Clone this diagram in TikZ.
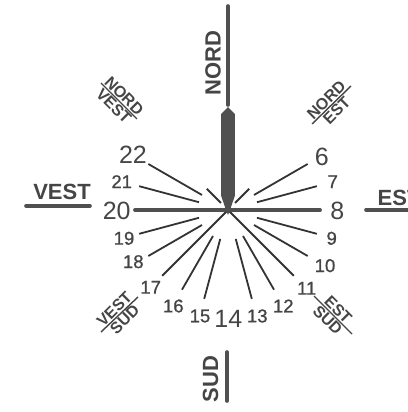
\documentclass[tikz,border=0pt]{standalone}
\usepackage{fontspec}
\setmainfont{Liberation Sans}
\newfontfamily\semifont[FakeBold=0.9]{Liberation Sans}
\usetikzlibrary{calc}
\definecolor{ink}{HTML}{454545}
\definecolor{linegray}{HTML}{505050}
\tikzset{
  compass/.style={font=\fontsize{22}{22}\selectfont\bfseries, text=ink, inner sep=0pt},
  diag/.style={font=\fontsize{16}{16}\selectfont\bfseries, text=ink, inner sep=1.5pt},
  bignum/.style={font=\fontsize{25}{25}\selectfont, text=ink, inner sep=0pt},
  smallnum/.style={font=\fontsize{18.5}{18.5}\semifont, text=ink, inner sep=0pt},
  bar/.style={line width=3.6pt, linegray, line cap=round},
  hourline/.style={line width=1.8pt, black!80, line cap=butt},
  diagline/.style={line width=1.4pt, ink},
}
\begin{document}
\begin{tikzpicture}[x=1pt,y=1pt]
\useasboundingbox (0,0) rectangle (407,412);
\coordinate (C) at (228,202);

% hour lines
\foreach \a in {30,15,-15,-30,-60,-75,-105,-120,-150,-165,165,150}
  \draw[hourline] ($(C)+(\a:30)$) -- ($(C)+(\a:92)$);
\foreach \a in {-45,-135}
  \draw[hourline] (C) -- ($(C)+(\a:93)$);
\foreach \a in {45,135}
  \draw[hourline] ($(C)+(\a:10)$) -- ($(C)+(\a:30)$);

% main horizontal line 20 - 8
\coordinate (W8) at (135,202);
\coordinate (E8) at (320,202);
\draw[line width=3.8pt, linegray, line cap=round] (W8) -- (E8);

% gnomon
\fill[linegray] (228,305) -- (234.8,298) -- (234.8,216) -- (230,202) -- (228,197) -- (226,202) -- (221.2,216) -- (221.2,298) -- cycle;

% north
\coordinate (N1) at (228,406);
\coordinate (N2) at (228,307);
\draw[bar] (N1) -- (N2);
\node[compass, rotate=90] (nord) at (213,349) {NORD};
% south
\coordinate (S1) at (227,60);
\coordinate (S2) at (227,11);
\draw[bar] (S1) -- (S2);
\node[compass, rotate=90] (sud) at (210.5,33) {SUD};
% west
\coordinate (Wa) at (26,206);
\coordinate (Wb) at (90,206);
\draw[bar] (Wa) -- (Wb);
\node[compass] (vest) at (62,220.5) {VEST};
% east
\coordinate (Ea) at (366,202);
\coordinate (Eb) at (420,202);
\draw[bar] (Ea) -- (Eb);
\node[compass, anchor=south west] (est) at (377.5,206.5) {EST};

% diagonal labels
\coordinate (nv1) at (101,329); \coordinate (nv2) at (137,293);
\draw[diagline] (nv1) -- (nv2);
\node[diag, rotate=-45, anchor=south] (nvN) at ($(nv1)!0.5!(nv2)$) {NORD};
\node[diag, rotate=-45, anchor=north] (nvV) at ($(nv1)!0.5!(nv2)$) {VEST};

\coordinate (ne1) at (312,288); \coordinate (ne2) at (351,326);
\draw[diagline] (ne1) -- (ne2);
\node[diag, rotate=45, anchor=south] (neN) at ($(ne1)!0.5!(ne2)$) {NORD};
\node[diag, rotate=45, anchor=north] (neE) at ($(ne1)!0.5!(ne2)$) {EST};

\coordinate (vs1) at (101,80); \coordinate (vs2) at (138,115);
\draw[diagline] (vs1) -- (vs2);
\node[diag, rotate=45, anchor=south] (vsV) at ($(vs1)!0.5!(vs2)$) {VEST};
\node[diag, rotate=45, anchor=north] (vsS) at ($(vs1)!0.5!(vs2)$) {SUD};

\coordinate (es1) at (314,116); \coordinate (es2) at (352,78);
\draw[diagline] (es1) -- (es2);
\node[diag, rotate=-45, anchor=south] (esE) at ($(es1)!0.5!(es2)$) {EST};
\node[diag, rotate=-45, anchor=north] (esS) at ($(es1)!0.5!(es2)$) {SUD};

% hour numbers
\node[bignum] (h22) at (133,257) {22};
\node[smallnum] (h21) at (121.7,230.3) {21};
\node[bignum] (h20) at (116.7,201.3) {20};
\node[smallnum] (h19) at (124,173.7) {19};
\node[smallnum] (h18) at (133.3,150.3) {18};
\node[smallnum] (h17) at (150.7,124.7) {17};
\node[smallnum] (h16) at (173.3,106) {16};
\node[smallnum] (h15) at (200,96) {15};
\node[bignum] (h14) at (228.3,92.7) {14};
\node[smallnum] (h13) at (257.3,96) {13};
\node[smallnum] (h12) at (283.3,106) {12};
\node[smallnum] (h11) at (306.7,123.7) {11};
\node[smallnum] (h10) at (325,146.3) {10};
\node[smallnum] (h9) at (331.7,173.7) {9};
\node[bignum] (h8) at (337.3,201.3) {8};
\node[smallnum] (h7) at (332.7,230.3) {7};
\node[bignum] (h6) at (321.7,255.3) {6};
\end{tikzpicture}
\end{document}
